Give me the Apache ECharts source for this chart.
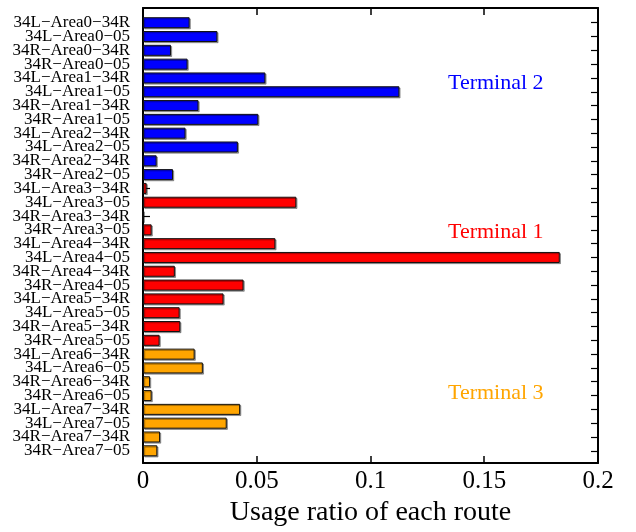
<!DOCTYPE html>
<html>
<head>
<meta charset="utf-8">
<script src="https://cdn.jsdelivr.net/npm/echarts@6/dist/echarts.min.js"></script>
<style>
html,body{margin:0;padding:0;background:#fff;}
#chart{width:636px;height:532px;}
</style>
</head>
<body>
<div id="chart"></div>
<script>
const categories = [
  '34L−Area0−34R','34L−Area0−05','34R−Area0−34R','34R−Area0−05',
  '34L−Area1−34R','34L−Area1−05','34R−Area1−34R','34R−Area1−05',
  '34L−Area2−34R','34L−Area2−05','34R−Area2−34R','34R−Area2−05',
  '34L−Area3−34R','34L−Area3−05','34R−Area3−34R','34R−Area3−05',
  '34L−Area4−34R','34L−Area4−05','34R−Area4−34R','34R−Area4−05',
  '34L−Area5−34R','34L−Area5−05','34R−Area5−34R','34R−Area5−05',
  '34L−Area6−34R','34L−Area6−05','34R−Area6−34R','34R−Area6−05',
  '34L−Area7−34R','34L−Area7−05','34R−Area7−34R','34R−Area7−05'
];
const usage = [
  0.0205, 0.0327, 0.0123, 0.0196,
  0.0538, 0.1127, 0.0244, 0.0507,
  0.0187, 0.0417, 0.0060, 0.0132,
  0.0016, 0.0674, 0.0000, 0.0038,
  0.0582, 0.1832, 0.0140, 0.0442,
  0.0354, 0.0161, 0.0164, 0.0073,
  0.0227, 0.0263, 0.0031, 0.0038,
  0.0427, 0.0368, 0.0075, 0.0063
];
const terminalOf = [
  'Terminal 2','Terminal 2','Terminal 2','Terminal 2',
  'Terminal 2','Terminal 2','Terminal 2','Terminal 2',
  'Terminal 2','Terminal 2','Terminal 2','Terminal 2',
  'Terminal 1','Terminal 1','Terminal 1','Terminal 1',
  'Terminal 1','Terminal 1','Terminal 1','Terminal 1',
  'Terminal 1','Terminal 1','Terminal 1','Terminal 1',
  'Terminal 3','Terminal 3','Terminal 3','Terminal 3',
  'Terminal 3','Terminal 3','Terminal 3','Terminal 3'
];
const terminals = ['Terminal 2','Terminal 1','Terminal 3'];
const terminalColors = ['#0000ff','#ff0000','#ffa500'];
const xTicks = [0, 0.05, 0.1, 0.15, 0.2];
const xTitle = 'Usage ratio of each route';

const FONT = 'Liberation Serif';
const chart = echarts.init(document.getElementById('chart'), null, {renderer:'canvas'});

const frameL = 143, frameR = 636 - 598, frameT = 8, frameB = 532 - 463;

const series = terminals.map((t, k) => ({
  type: 'bar',
  name: t,
  xAxisIndex: 2,
  yAxisIndex: 2,
  stack: 'all',
  barWidth: 11,
  data: usage.map((v, i) => terminalOf[i] === t ? v : '-'),
  itemStyle: {
    color: terminalColors[k],
    borderColor: '#111',
    borderWidth: 1,
    shadowColor: 'rgba(0,0,0,0.35)',
    shadowOffsetX: 1.2,
    shadowOffsetY: 1.2,
    shadowBlur: 0
  },
  emphasis: {disabled: true},
  animation: false
}));

chart.setOption({
  animation: false,
  grid: [
    {left: frameL, right: frameR, top: frameT, bottom: frameB, containLabel: false},
    {left: frameL, right: frameR, top: 15.8, bottom: 532 - 457.7, containLabel: false}
  ],
  xAxis: [
    {
      type: 'value', gridIndex: 0, position: 'bottom',
      min: xTicks[0], max: xTicks[xTicks.length - 1], interval: 0.05,
      name: xTitle, nameLocation: 'middle', nameGap: 28,
      nameTextStyle: {fontFamily: FONT, fontSize: 28, color: '#000'},
      axisLine: {show: true, onZero: false, lineStyle: {color: '#000', width: 2}},
      axisTick: {show: true, inside: true, length: 7, lineStyle: {color: '#000', width: 1.5}},
      axisLabel: {show: true, margin: 6, fontFamily: FONT, fontSize: 25, color: '#000',
        formatter: v => String(v)},
      splitLine: {show: false}
    },
    {
      type: 'value', gridIndex: 0, position: 'top',
      min: xTicks[0], max: xTicks[xTicks.length - 1], interval: 0.05,
      axisLine: {show: true, onZero: false, lineStyle: {color: '#000', width: 2}},
      axisTick: {show: true, inside: true, length: 7, lineStyle: {color: '#000', width: 1.5}},
      axisLabel: {show: false},
      splitLine: {show: false}
    },
    {
      type: 'value', gridIndex: 1, position: 'bottom',
      min: xTicks[0], max: xTicks[xTicks.length - 1],
      show: false
    }
  ],
  yAxis: [
    {
      type: 'value', gridIndex: 0, position: 'left', min: 0, max: 1,
      axisLine: {show: true, onZero: false, lineStyle: {color: '#000', width: 2}},
      axisTick: {show: false}, axisLabel: {show: false}, splitLine: {show: false}
    },
    {
      type: 'value', gridIndex: 0, position: 'right', min: 0, max: 1,
      axisLine: {show: true, onZero: false, lineStyle: {color: '#000', width: 2}},
      axisTick: {show: false}, axisLabel: {show: false}, splitLine: {show: false}
    },
    {
      type: 'category', gridIndex: 1, position: 'left', inverse: true,
      data: categories,
      axisLine: {show: false},
      axisTick: {show: true, inside: true, alignWithLabel: true, length: 7, lineStyle: {color: '#000', width: 1.2}},
      axisLabel: {show: true, interval: 0, margin: 13, fontFamily: FONT, fontSize: 17, color: '#000'},
      splitLine: {show: false}
    },
    {
      type: 'category', gridIndex: 1, position: 'right', inverse: true,
      data: categories,
      axisLine: {show: false},
      axisTick: {show: true, inside: true, alignWithLabel: true, interval: 0, length: 7, lineStyle: {color: '#000', width: 1.2}},
      axisLabel: {show: false},
      splitLine: {show: false}
    }
  ],
  graphic: [
    {type: 'text', left: 448, top: 72, style: {text: terminals[0], fill: terminalColors[0], font: '22px "Liberation Serif"'}},
    {type: 'text', left: 448, top: 221, style: {text: terminals[1], fill: terminalColors[1], font: '22px "Liberation Serif"'}},
    {type: 'text', left: 448, top: 382, style: {text: terminals[2], fill: terminalColors[2], font: '22px "Liberation Serif"'}}
  ],
  series: series
});
</script>
</body>
</html>
